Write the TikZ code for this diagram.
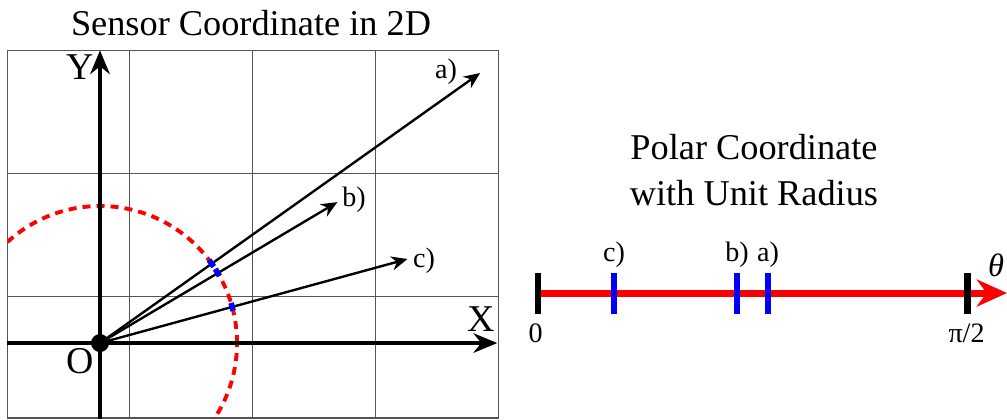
\documentclass[tikz,border=0pt]{standalone}
\usepackage{fontspec}
\setmainfont{Liberation Serif}
\usetikzlibrary{arrows.meta}
\definecolor{gridc}{HTML}{555555}
\tikzset{
  ax/.style={line width=2.2pt,-{Stealth[length=11pt,width=9pt]}},
  vec/.style={line width=1.1pt,-{Stealth[length=7.5pt,width=6.5pt]}},
  ring/.style={red,line width=1.8pt,dash pattern=on 3.7pt off 2.8pt},
  hit/.style={blue,line width=2.6pt},
  tick/.style={line width=3.2pt},
  lbl/.style={font=\fontsize{13}{15}\selectfont,inner sep=0pt},
  axl/.style={font=\fontsize{17.5}{20}\selectfont,inner sep=0pt},
  ttl/.style={font=\fontsize{16.8}{21}\selectfont,align=center,inner sep=0pt}
}
\begin{document}
\begin{tikzpicture}[x=2cm,y=2cm]
\useasboundingbox (-0.813,-0.618) rectangle (7.374,2.789);
% sensor grid
\draw[gridc,line width=0.6pt] (-0.75,-0.61) rectangle (3.24,2.38);
\foreach \x in {0.24,1.24,2.24} \draw[gridc,line width=0.6pt] (\x,-0.61) -- (\x,2.38);
\foreach \y in {0.38,1.38} \draw[gridc,line width=0.6pt] (-0.75,\y) -- (3.24,\y);
\node[ttl] (t1) at (1.228,2.602) {Sensor Coordinate in 2D};
% unit circle
\begin{scope}
\clip (-0.75,-0.61) rectangle (3.24,2.38);
\draw[ring] (0,0) circle (1.114);
\end{scope}
% axes
\coordinate (xs) at (-0.76,0);
\coordinate (xe) at (3.23,0);
\coordinate (ys) at (0,-0.618);
\coordinate (ye) at (0,2.38);
\draw[ax] (xs) -- (xe);
\draw[ax] (ys) -- (ye);
\node[axl] (xl) at (3.097,0.191) {X};
\node[axl] (yl) at (-0.163,2.24) {Y};
\node[axl] (ol) at (-0.159,-0.15) {O};
\node[circle,fill,inner sep=0pt,minimum size=8.3pt] (O) at (0,0) {};
% measured directions
\coordinate (A) at (3.09,2.195);
\coordinate (B) at (1.93,1.146);
\coordinate (C) at (2.50,0.683);
\draw[vec] (O.center) -- (A);
\draw[vec] (O.center) -- (B);
\draw[vec] (O.center) -- (C);
\node[lbl] (al) at (2.813,2.203) {a)};
\node[lbl] (bl) at (2.065,1.163) {b)};
\node[lbl] (cl) at (2.634,0.667) {c)};
\foreach \a in {35.6,31.0,15.3}
  \draw[hit] (\a-1.7:1.114) arc (\a-1.7:\a+1.7:1.114);
% polar line
\node[ttl] (t2) at (5.317,1.407) {Polar Coordinate\\with Unit Radius};
\coordinate (p0) at (3.561,0.4065);
\coordinate (p1) at (7.374,0.4065);
\draw[red,line width=3.2pt,-{Stealth[length=14pt,width=12.5pt]}] (p0) -- (p1);
\foreach \x in {3.561,7.049} \draw[tick] (\x,0.24) -- (\x,0.573);
\foreach \x in {4.179,5.179,5.431} \draw[tick,blue] (\x,0.24) -- (\x,0.573);
\node[lbl] (pc) at (4.179,0.715) {c)};
\node[lbl] (pb) at (5.179,0.715) {b)};
\node[lbl] (pa) at (5.431,0.715) {a)};
\node[lbl] (z) at (3.541,0.077) {0};
\node[lbl] (hp) at (7.045,0.077) {π/2};
\node[font=\fontsize{15}{17}\selectfont\itshape,inner sep=0pt] (th) at (7.285,0.634) {θ};
\end{tikzpicture}
\end{document}
